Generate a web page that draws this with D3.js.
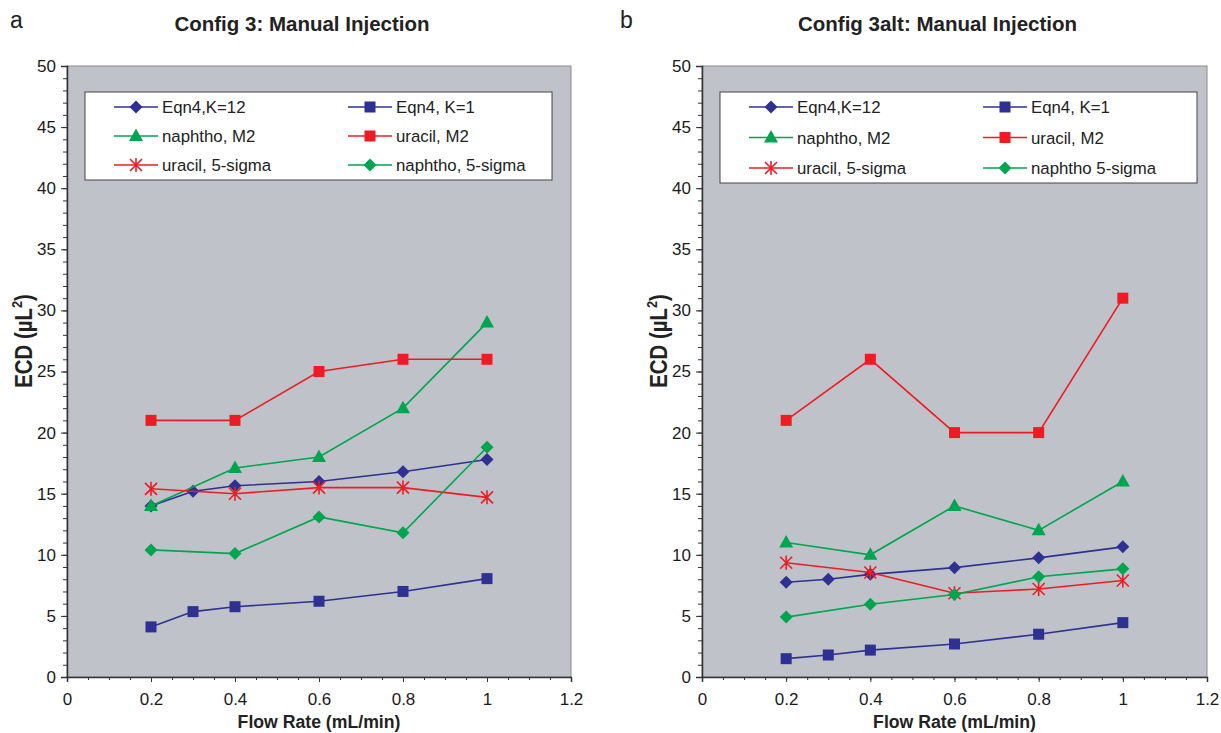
<!DOCTYPE html>
<html>
<head>
<meta charset="utf-8">
<script src="https://cdn.jsdelivr.net/npm/d3@7"></script>
<style>
  body { margin: 0; background: #fff; }
  svg { font-family: "Liberation Sans", Arial, sans-serif; }
</style>
</head>
<body>
<svg id="chart" width="1221" height="733"></svg>
<script>
// values
const flowRates = [0.2, 0.3, 0.4, 0.6, 0.8, 1.0];
const flowRatesShort = [0.2, 0.4, 0.6, 0.8, 1.0];

const seriesNamesA = ["Eqn4,K=12", "Eqn4, K=1", "naphtho, M2", "uracil, M2", "uracil, 5-sigma", "naphtho, 5-sigma"];
const seriesNamesB = ["Eqn4,K=12", "Eqn4, K=1", "naphtho, M2", "uracil, M2", "uracil, 5-sigma", "naphtho 5-sigma"];

// panel a: Config 3
const eqnK12A = [14.0, 15.2, 15.65, 16.0, 16.8, 17.8];
const eqnK1A = [4.1, 5.35, 5.75, 6.2, 7.0, 8.05];
const naphM2A = [14.0, 17.1, 18.0, 22.0, 29.0];
const uracM2A = [21.0, 21.0, 25.0, 26.0, 26.0];
const uracSigA = [15.4, 15.0, 15.5, 15.5, 14.7];
const naphSigA = [10.4, 10.1, 13.1, 11.8, 18.8];

// panel b: Config 3alt
const eqnK12B = [7.75, 8.0, 8.4, 8.95, 9.75, 10.65];
const eqnK1B = [1.5, 1.8, 2.2, 2.7, 3.5, 4.45];
const naphM2B = [11.0, 10.0, 14.0, 12.0, 16.0];
const uracM2B = [21.0, 26.0, 20.0, 20.0, 31.0];
const uracSigB = [9.35, 8.55, 6.85, 7.2, 7.9];
const naphSigB = [4.9, 5.95, 6.75, 8.2, 8.85];

const xTicks = [0, 0.2, 0.4, 0.6, 0.8, 1, 1.2];
const yTicks = [0, 5, 10, 15, 20, 25, 30, 35, 40, 45, 50];

const BLUE = "#2e3192", GREEN = "#00a550", RED = "#ed1c24";
// colour and marker per series, in legend order
const seriesStyle = [
  { color: BLUE, marker: "diamond" },
  { color: BLUE, marker: "square" },
  { color: GREEN, marker: "triangle" },
  { color: RED, marker: "square" },
  { color: RED, marker: "asterisk" },
  { color: GREEN, marker: "diamond" }
];

const panels = [
  {
    letter: "a", letterX: 10, title: "Config 3: Manual Injection", left: 67, right: 571, names: seriesNamesA,
    series: [[flowRates, eqnK12A], [flowRates, eqnK1A], [flowRatesShort, naphM2A],
             [flowRatesShort, uracM2A], [flowRatesShort, uracSigA], [flowRatesShort, naphSigA]],
    legend: { x: 85, y: 92, w: 467, h: 88 }
  },
  {
    letter: "b", letterX: 620, title: "Config 3alt: Manual Injection", left: 702, right: 1207, names: seriesNamesB,
    series: [[flowRates, eqnK12B], [flowRates, eqnK1B], [flowRatesShort, naphM2B],
             [flowRatesShort, uracM2B], [flowRatesShort, uracSigB], [flowRatesShort, naphSigB]],
    legend: { x: 720, y: 92, w: 477, h: 91 }
  }
];

const plotTop = 66, plotBottom = 677;
const svg = d3.select("#chart");

function drawMarker(g, type, cx, cy, color) {
  if (type === "square") {
    g.append("rect").attr("x", cx - 5.5).attr("y", cy - 5.5).attr("width", 11).attr("height", 11).attr("fill", color);
  } else if (type === "diamond") {
    g.append("path").attr("d", `M${cx},${cy - 6.5}L${cx + 6.5},${cy}L${cx},${cy + 6.5}L${cx - 6.5},${cy}Z`).attr("fill", color);
  } else if (type === "triangle") {
    g.append("path").attr("d", `M${cx},${cy - 7.5}L${cx + 7},${cy + 5}L${cx - 7},${cy + 5}Z`).attr("fill", color);
  } else if (type === "asterisk") {
    const r = 6;
    g.append("path")
      .attr("d", `M${cx - r},${cy - r}L${cx + r},${cy + r}M${cx - r},${cy + r}L${cx + r},${cy - r}M${cx},${cy - r - 1}L${cx},${cy + r + 1}`)
      .attr("stroke", color).attr("stroke-width", 1.6).attr("fill", "none");
  }
}

panels.forEach(p => {
  const x = d3.scaleLinear().domain([0, 1.2]).range([p.left, p.right]);
  const y = d3.scaleLinear().domain([0, 50]).range([plotBottom, plotTop]);
  const g = svg.append("g");

  // plot area
  g.append("rect")
    .attr("x", p.left).attr("y", plotTop)
    .attr("width", p.right - p.left).attr("height", plotBottom - plotTop)
    .attr("fill", "#c0c2c9").attr("stroke", "#8a8a8a").attr("stroke-width", 1);

  // minor ticks
  const xAxisMinor = d3.axisBottom(x).ticks(30).tickSize(3).tickFormat("");
  g.append("g").attr("transform", `translate(0,${plotBottom})`).call(xAxisMinor)
    .call(s => s.select(".domain").remove())
    .selectAll("line").attr("stroke", "#333");
  const yAxisMinor = d3.axisLeft(y).ticks(50).tickSize(4).tickFormat("");
  g.append("g").attr("transform", `translate(${p.left},0)`).call(yAxisMinor)
    .call(s => s.select(".domain").remove())
    .selectAll("line").attr("stroke", "#333");

  // major axes
  const xAxis = d3.axisBottom(x).tickValues(xTicks).tickSize(5).tickPadding(11).tickFormat(d3.format("~g"));
  g.append("g").attr("transform", `translate(0,${plotBottom})`).call(xAxis)
    .call(s => s.select(".domain").attr("stroke", "#333").attr("stroke-width", 1.5))
    .call(s => s.selectAll("line").attr("stroke", "#333"))
    .call(s => s.selectAll("text").attr("font-size", 17).attr("fill", "#1a1a1a").attr("font-family", "Liberation Sans"));
  const yAxis = d3.axisLeft(y).tickValues(yTicks).tickSize(6).tickPadding(5);
  g.append("g").attr("transform", `translate(${p.left},0)`).call(yAxis)
    .call(s => s.select(".domain").attr("stroke", "#333").attr("stroke-width", 1.5))
    .call(s => s.selectAll("line").attr("stroke", "#333"))
    .call(s => s.selectAll("text").attr("font-size", 17).attr("fill", "#1a1a1a").attr("font-family", "Liberation Sans"));

  // lines + markers
  const line = d3.line().x(d => x(d[0])).y(d => y(d[1]));
  p.series.forEach(([xs, ys], i) => {
    const st = seriesStyle[i];
    const pts = xs.map((v, j) => [v, ys[j]]);
    g.append("path").datum(pts).attr("d", line)
      .attr("fill", "none").attr("stroke", st.color).attr("stroke-width", 1.6);
    pts.forEach(d => drawMarker(g, st.marker, x(d[0]), y(d[1]), st.color));
  });

  // legend
  const L = p.legend;
  g.append("rect").attr("x", L.x).attr("y", L.y).attr("width", L.w).attr("height", L.h)
    .attr("fill", "#fff").attr("stroke", "#444").attr("stroke-width", 1);
  p.names.forEach((name, i) => {
    const col = i % 2, row = Math.floor(i / 2);
    const lx = L.x + 29 + col * 234;
    const ly = L.y + 15 + row * (L.h - 30) / 2;
    const st = seriesStyle[i];
    g.append("line").attr("x1", lx).attr("x2", lx + 44).attr("y1", ly).attr("y2", ly)
      .attr("stroke", st.color).attr("stroke-width", 1.6);
    drawMarker(g, st.marker, lx + 22, ly, st.color);
    g.append("text").attr("x", lx + 48).attr("y", ly + 6)
      .attr("font-size", 16.8).attr("fill", "#222").text(name);
  });

  // titles
  const mid = (p.left + p.right) / 2;
  g.append("text").attr("x", mid - 17).attr("y", 31).attr("text-anchor", "middle")
    .attr("font-size", 20.5).attr("font-weight", "bold").attr("fill", "#222").text(p.title);
  g.append("text").attr("x", p.letterX).attr("y", 28)
    .attr("font-size", 23).attr("fill", "#222").text(p.letter);
  g.append("text")
    .attr("transform", `translate(${mid},728) scale(0.93,1)`).attr("text-anchor", "middle")
    .attr("font-size", 19).attr("font-weight", "bold").attr("fill", "#222").text("Flow Rate (mL/min)");

  // axis title is drawn in a tall, condensed bold face
  const yl = g.append("text")
    .attr("transform", `translate(${p.left - 35},341) rotate(-90) scale(0.85,1)`)
    .attr("text-anchor", "middle").attr("font-size", 24).attr("font-weight", "bold").attr("fill", "#222");
  yl.append("tspan").text("ECD (µL");
  yl.append("tspan").attr("font-size", 15).attr("dy", -10).text("2");
  yl.append("tspan").attr("dy", 10).text(")");
});
</script>
</body>
</html>
